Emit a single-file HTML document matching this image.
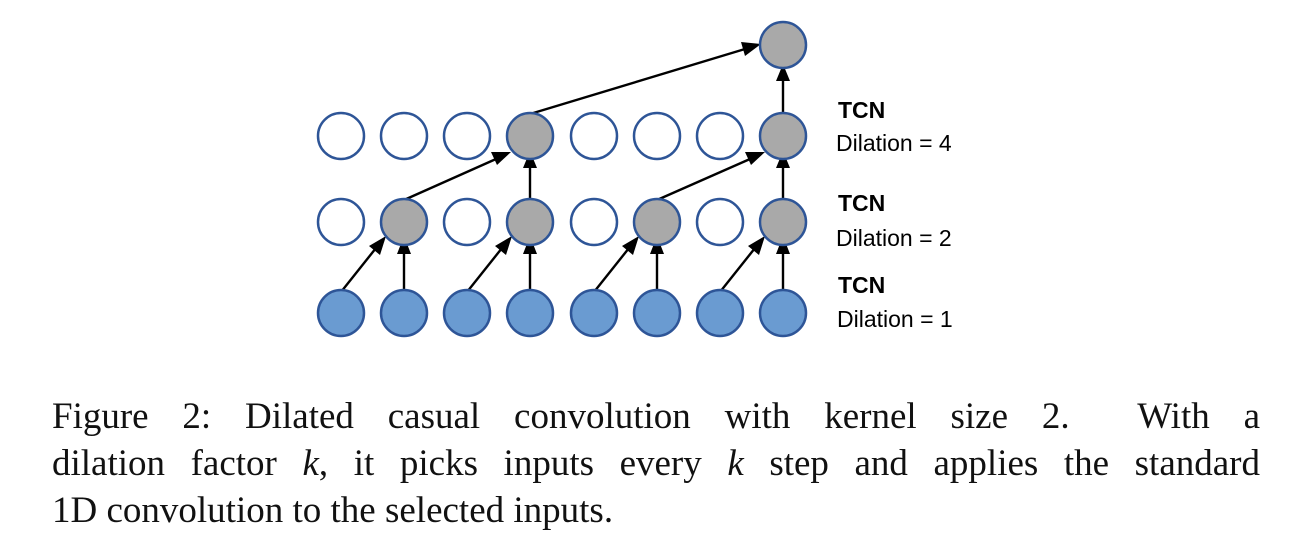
<!DOCTYPE html>
<html><head><style>
body{margin:0;background:#fff;width:1304px;height:560px;overflow:hidden;position:relative}
.cap{position:absolute;left:52px;top:393px;width:1208px;font-family:"Liberation Serif",serif;font-size:37px;line-height:47px;color:#111}
.l{text-align:justify;text-align-last:justify;white-space:nowrap}
.l3{text-align:left;white-space:nowrap}
</style></head><body>
<svg width="1304" height="380" style="position:absolute;left:0;top:0" font-family="Liberation Sans, sans-serif">
<g stroke="#000" stroke-width="2.4" fill="none">
<line x1="341" y1="292" x2="380" y2="243"/>
<line x1="467" y1="292" x2="506" y2="243"/>
<line x1="594" y1="292" x2="633" y2="243"/>
<line x1="720" y1="292" x2="759" y2="243"/>
<line x1="404" y1="292" x2="404" y2="252"/>
<line x1="530" y1="292" x2="530" y2="252"/>
<line x1="657" y1="292" x2="657" y2="252"/>
<line x1="783" y1="292" x2="783" y2="252"/>
<line x1="404" y1="200" x2="496" y2="159"/>
<line x1="657" y1="200" x2="750" y2="159"/>
<line x1="530" y1="200" x2="530" y2="166"/>
<line x1="783" y1="200" x2="783" y2="166"/>
<line x1="530" y1="114" x2="745" y2="49"/>
<line x1="783" y1="114" x2="783" y2="78"/>
</g>
<g fill="#000">
<polygon points="386,236 369,246 380,255"/>
<polygon points="512,236 495,246 506,255"/>
<polygon points="639,236 622,246 633,255"/>
<polygon points="765,236 748,246 759,255"/>
<polygon points="404,236 397,254 411,254"/>
<polygon points="530,236 523,254 537,254"/>
<polygon points="657,236 650,254 664,254"/>
<polygon points="783,236 776,254 790,254"/>
<polygon points="511,152 491,152 497,165"/>
<polygon points="765,152 745,152 751,165"/>
<polygon points="530,151 523,168 537,168"/>
<polygon points="783,151 776,168 790,168"/>
<polygon points="761,44 741,42 745,56"/>
<polygon points="783,64 776,81 790,81"/>
</g>
<g stroke="#2e5597" stroke-width="2.5">
<g fill="#6a9bd1">
<circle cx="341" cy="313" r="23"/><circle cx="404" cy="313" r="23"/><circle cx="467" cy="313" r="23"/><circle cx="530" cy="313" r="23"/>
<circle cx="594" cy="313" r="23"/><circle cx="657" cy="313" r="23"/><circle cx="720" cy="313" r="23"/><circle cx="783" cy="313" r="23"/>
</g>
<g fill="#fff">
<circle cx="341" cy="222" r="23"/><circle cx="467" cy="222" r="23"/><circle cx="594" cy="222" r="23"/><circle cx="720" cy="222" r="23"/>
<circle cx="341" cy="136" r="23"/><circle cx="404" cy="136" r="23"/><circle cx="467" cy="136" r="23"/>
<circle cx="594" cy="136" r="23"/><circle cx="657" cy="136" r="23"/><circle cx="720" cy="136" r="23"/>
</g>
<g fill="#a9a9a9">
<circle cx="404" cy="222" r="23"/><circle cx="530" cy="222" r="23"/><circle cx="657" cy="222" r="23"/><circle cx="783" cy="222" r="23"/>
<circle cx="530" cy="136" r="23"/><circle cx="783" cy="136" r="23"/><circle cx="783" cy="45" r="23"/>
</g>
</g>
<g font-size="23" fill="#000">
<text x="838" y="118" font-weight="bold">TCN</text>
<text x="836" y="151">Dilation = 4</text>
<text x="838" y="211" font-weight="bold">TCN</text>
<text x="836" y="246">Dilation = 2</text>
<text x="838" y="293" font-weight="bold">TCN</text>
<text x="837" y="327">Dilation = 1</text>
</g>
</svg>
<div class="cap">
<div class="l">Figure 2: Dilated casual convolution with kernel size 2. &nbsp;With a</div>
<div class="l">dilation factor <i>k</i>, it picks inputs every <i>k</i> step and applies the standard</div>
<div class="l3">1D convolution to the selected inputs.</div>
</div>
</body></html>
